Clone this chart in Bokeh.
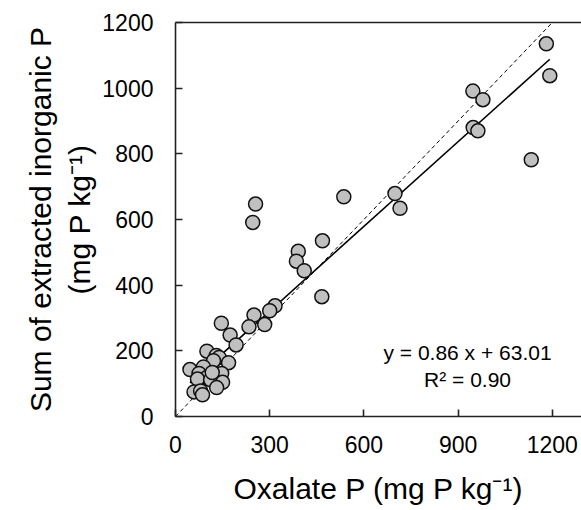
from bokeh.plotting import figure
from bokeh.models import LinearAxis, FixedTicker, Range1d, Label, ColumnDataSource
from bokeh.embed import file_html
from bokeh.resources import INLINE

# Data
oxalate_p = [1181, 1192, 947, 979, 948, 963, 1133,
             699, 715, 536, 255, 246, 468, 391, 385, 410, 466,
             317, 300, 250, 234, 284, 146, 174, 193,
             100, 130, 139, 121, 169, 89, 46, 75, 147, 100, 70, 112, 150, 131, 59, 80, 86, 117]
inorganic_p = [1135, 1038, 991, 965, 880, 870, 782,
               679, 634, 669, 647, 591, 535, 503, 473, 444, 365,
               337, 322, 309, 273, 280, 284, 248, 218,
               199, 186, 180, 170, 164, 151, 143, 131, 131, 119, 114, 112, 104, 88, 75, 78, 66, 134]
slope = 0.86
intercept = 63.01
r2 = 0.90
x_ticks = [0, 300, 600, 900, 1200]
y_ticks = [0, 200, 400, 600, 800, 1000, 1200]
one_to_one = [0, 1200]

FONT = "Liberation Sans"

p = figure(width=581, height=510, output_backend="svg", toolbar_location=None,
           x_range=Range1d(0, 1293), y_range=Range1d(0, 1200),
           min_border_left=175, min_border_right=0, min_border_top=22, min_border_bottom=94)
p.outline_line_color = None
p.xgrid.visible = False
p.ygrid.visible = False
p.background_fill_color = "white"
p.border_fill_color = "white"

for ax in (p.xaxis[0], p.yaxis[0]):
    ax.axis_line_color = "#222222"
    ax.axis_line_width = 1.6
    ax.major_tick_line_color = "#222222"
    ax.major_tick_line_width = 1.6
    ax.major_tick_in = 7
    ax.major_tick_out = 0
    ax.minor_tick_line_color = None
    ax.major_label_text_font = FONT
    ax.major_label_text_font_size = "23px"
    ax.major_label_text_color = "black"
    ax.axis_label_text_font = FONT
    ax.axis_label_text_font_size = "30px"
    ax.axis_label_text_font_style = "normal"
    ax.axis_label_text_color = "black"

p.xaxis[0].major_label_standoff = 19
p.yaxis[0].major_label_standoff = 22
p.xaxis[0].ticker = FixedTicker(ticks=x_ticks)
p.yaxis[0].ticker = FixedTicker(ticks=y_ticks)
p.xaxis[0].axis_label = "Oxalate P (mg P kg\u207b\u00b9)"
p.yaxis[0].axis_label = "Sum of extracted inorganic P\n(mg P kg\u207b\u00b9)"
p.xaxis[0].axis_label_standoff = 16
p.yaxis[0].axis_label_standoff = 3

top = LinearAxis(ticker=FixedTicker(ticks=[]), axis_line_color="#222222", axis_line_width=1.6,
                 major_tick_line_color=None, minor_tick_line_color=None,
                 major_label_text_font_size="0px")
p.add_layout(top, "above")

# 1:1 line
p.line(one_to_one, one_to_one, line_color="black", line_width=1, line_dash="4 3")

# regression line across data range
xmin, xmax = min(oxalate_p), max(oxalate_p)
p.line([xmin, xmax], [slope * xmin + intercept, slope * xmax + intercept],
       line_color="black", line_width=1.6)

src = ColumnDataSource(dict(x=oxalate_p, y=inorganic_p))
p.scatter("x", "y", source=src, size=14, fill_color="#c0c0c0", line_color="#111111", line_width=1.5)

p.add_layout(Label(x=930, y=194, text=f"y = {slope:.2f} x + {intercept:.2f}", text_align="center",
                   text_baseline="middle", text_font=FONT, text_font_size="21px", text_color="black"))
p.add_layout(Label(x=930, y=112, text=f"R\u00b2 = {r2:.2f}", text_align="center",
                   text_baseline="middle", text_font=FONT, text_font_size="21px", text_color="black"))

open("out.html", "w").write(file_html(p, INLINE))
